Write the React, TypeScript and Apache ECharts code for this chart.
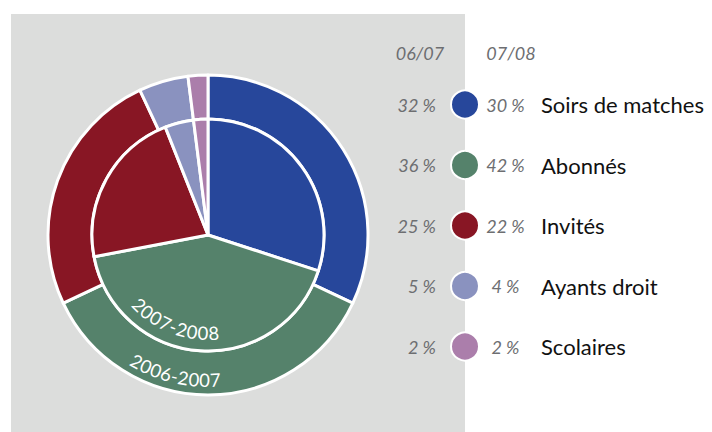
import React, { useEffect, useRef } from "react";
import * as echarts from "echarts";

const categories = ["Soirs de matches", "Abonnés", "Invités", "Ayants droit", "Scolaires"];
const share0607 = [32, 36, 25, 5, 2];
const share0708 = [30, 42, 22, 4, 2];
const colors = ["#27479b", "#55826b", "#881624", "#8a92bf", "#ab7eab"];
const columnHeaders = ["06/07", "07/08"];
const ringLabels = ["2006-2007", "2007-2008"];

const FONT = "Lato, 'Open Sans', sans-serif";
const GREY_TEXT = "#6d6e71";

function arcText(text: string, cx: number, cy: number, r: number, midDeg: number, fontSize: number) {
  const ctx = document.createElement("canvas").getContext("2d") as CanvasRenderingContext2D;
  ctx.font = `${fontSize}px Lato`;
  const chars = Array.from(text);
  const widths = chars.map((c) => ctx.measureText(c).width);
  const total = widths.reduce((a, b) => a + b, 0);
  const startDeg = midDeg + ((total / r) * 180) / Math.PI / 2;
  let s = 0;
  const els: any[] = [];
  chars.forEach((c, i) => {
    const mid = s + widths[i] / 2;
    s += widths[i];
    const th = startDeg - ((mid / r) * 180) / Math.PI;
    const rad = (th * Math.PI) / 180;
    els.push({
      type: "text",
      x: cx + r * Math.cos(rad),
      y: cy + r * Math.sin(rad),
      rotation: ((90 - th) * Math.PI) / 180,
      z: 100,
      silent: true,
      style: {
        text: c,
        fill: "#ffffff",
        fontSize,
        fontFamily: FONT,
        align: "center",
        verticalAlign: "middle",
      },
    });
  });
  return els;
}

export default function App() {
  const ref = useRef<HTMLDivElement>(null);
  useEffect(() => {
    if (!ref.current) return;
    const chart = echarts.init(ref.current, undefined, { renderer: "svg" });
    const cx = 208;
    const cy = 235;
    const rowTop = 104.5;
    const rowStep = 60.5;
    const itemBox = 30; // icon 28 + stroke

    const graphics: any[] = [
      {
        type: "rect",
        z: -10,
        silent: true,
        shape: { x: 11, y: 14, width: 454, height: 420 },
        style: { fill: "#dcdddc" },
      },
      {
        type: "text",
        x: 420,
        y: 53,
        z: 100,
        style: { text: columnHeaders[0], fill: GREY_TEXT, fontSize: 18, fontStyle: "italic", fontFamily: FONT, align: "center", verticalAlign: "middle" },
      },
      {
        type: "text",
        x: 511,
        y: 53,
        z: 100,
        style: { text: columnHeaders[1], fill: GREY_TEXT, fontSize: 18, fontStyle: "italic", fontFamily: FONT, align: "center", verticalAlign: "middle" },
      },
      ...share0607.map((v, i) => ({
        type: "text",
        x: 436,
        y: rowTop + i * rowStep,
        z: 100,
        style: { text: `${v} %`, fill: GREY_TEXT, fontSize: 18, fontStyle: "italic", fontFamily: FONT, align: "right", verticalAlign: "middle" },
      })),
      ...arcText(ringLabels[1], cx, cy, 98, 110.7, 18.5),
      ...arcText(ringLabels[0], cx, cy, 145, 103.3, 18.5),
    ];

    const baseItemStyle = { borderColor: "#ffffff", borderWidth: 3 };

    chart.setOption({
      animation: false,
      color: colors,
      graphic: { elements: graphics },
      legend: {
        orient: "vertical",
        left: 450,
        top: rowTop - itemBox / 2,
        padding: 0,
        itemWidth: 28,
        itemHeight: 28,
        itemGap: rowStep - itemBox,
        icon: "circle",
        selectedMode: false,
        data: categories,
        itemStyle: { borderColor: "#ffffff", borderWidth: 2 },
        formatter: (name: string) => {
          const i = categories.indexOf(name);
          return `{p|${share0708[i]} %}{n|${name}}`;
        },
        textStyle: {
          lineHeight: 22,
          rich: {
            p: { width: 43, align: "right", fontSize: 18, fontStyle: "italic", color: GREY_TEXT, fontFamily: FONT, lineHeight: 22 },
            n: { fontSize: 22, color: "#111111", fontFamily: FONT, padding: [0, 0, 0, 14], lineHeight: 22 },
          },
        },
      },
      series: [
        {
          name: "2006-2007",
          type: "pie",
          center: [cx, cy],
          radius: [116, 160],
          startAngle: 90,
          clockwise: true,
          silent: true,
          label: { show: false },
          labelLine: { show: false },
          emphasis: { disabled: true },
          itemStyle: baseItemStyle,
          data: categories.map((n, i) => ({ name: n, value: share0607[i] })),
        },
        {
          name: "2007-2008",
          type: "pie",
          center: [cx, cy],
          radius: [0, 116],
          startAngle: 90,
          clockwise: true,
          silent: true,
          label: { show: false },
          labelLine: { show: false },
          emphasis: { disabled: true },
          itemStyle: baseItemStyle,
          data: categories.map((n, i) => ({ name: n, value: share0708[i] })),
        },
      ],
    });
    return () => chart.dispose();
  }, []);
  return (
    <div
      ref={ref}
      style={{ position: "fixed", left: 0, top: 0, width: 712, height: 432, background: "#ffffff" }}
    />
  );
}
